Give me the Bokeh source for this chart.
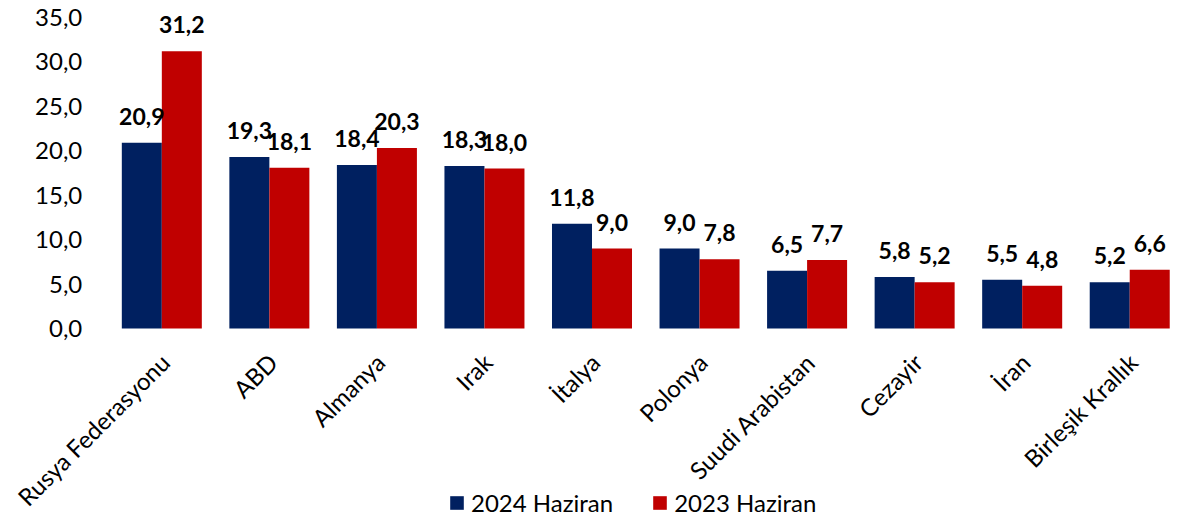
from bokeh.plotting import figure
from bokeh.models import (FactorRange, Range1d, Legend, LegendItem, ColumnDataSource)
from bokeh.transform import dodge
from bokeh.core.properties import value
from bokeh.embed import file_html
from bokeh.resources import INLINE
import math

categories = ["Rusya Federasyonu", "ABD", "Almanya", "Irak", "İtalya", "Polonya",
              "Suudi Arabistan", "Cezayir", "İran", "Birleşik Krallık"]
series_2024 = [20.9, 19.3, 18.4, 18.3, 11.8, 9.0, 6.5, 5.8, 5.5, 5.2]
series_2023 = [31.2, 18.1, 20.3, 18.0, 9.0, 7.8, 7.7, 5.2, 4.8, 6.6]
series_names = ["2024 Haziran", "2023 Haziran"]
y_ticks = [0, 5, 10, 15, 20, 25, 30, 35]

NAVY = "#002060"
RED = "#C00000"
FONT = "Lato"
AXIS_SLOT = " "   # empty slot on the left that holds the value-axis labels

def fmt(v):
    return f"{v:.1f}".replace(".", ",")

src = ColumnDataSource(dict(
    cat=categories,
    a=series_2024,
    b=series_2023,
    la=[fmt(v) for v in series_2024],
    lb=[fmt(v) for v in series_2023],
    zero=[0] * len(categories),
))
tick_src = ColumnDataSource(dict(
    x=[AXIS_SLOT] * len(y_ticks),
    y=y_ticks,
    t=[fmt(v) for v in y_ticks],
))

H = 520
# frame spans the whole canvas; 0 sits at 328px, 35 at 17px from the top
px_per_unit = (328 - 17) / 35.0
y_top = 35 + 17 / px_per_unit
y_bottom = -(H - 328) / px_per_unit

p = figure(x_range=FactorRange(AXIS_SLOT, *categories, range_padding=0),
           y_range=Range1d(y_bottom, y_top),
           width=1183, height=H, output_backend="svg", toolbar_location=None,
           min_border_left=0, min_border_right=0, min_border_top=0, min_border_bottom=0)
p.outline_line_color = None
p.xgrid.grid_line_color = None
p.ygrid.grid_line_color = None
p.xaxis.visible = False
p.yaxis.visible = False

bw = 0.372
ra = p.vbar(x=dodge("cat", -bw / 2, range=p.x_range), top="a", width=bw, source=src,
            fill_color=NAVY, line_color=None)
rb = p.vbar(x=dodge("cat", bw / 2, range=p.x_range), top="b", width=bw, source=src,
            fill_color=RED, line_color=None)

# baseline (category axis line) from the first category to the right edge
p.segment(x0=dodge(AXIS_SLOT, 0.5, range=p.x_range), x1=dodge(categories[-1], 0.5, range=p.x_range),
          y0=0, y1=0, line_color="#a6a6a6", line_width=2)

# value labels
p.text(x=dodge("cat", -bw / 2, range=p.x_range), y="a", text="la", source=src,
       text_align="center", text_baseline="bottom", y_offset=-18,
       text_font=value(FONT), text_font_style="bold", text_font_size="23px", text_color="black")
p.text(x=dodge("cat", bw / 2, range=p.x_range), y="b", text="lb", source=src,
       text_align="center", text_baseline="bottom", y_offset=-18,
       text_font=value(FONT), text_font_style="bold", text_font_size="23px", text_color="black")

# category labels (rotated)
p.text(x="cat", y="zero", text="cat", source=src, angle=math.pi / 4,
       text_align="right", text_baseline="top", x_offset=-7, y_offset=19,
       text_font=value(FONT), text_font_size="24px", text_color="black")

# value-axis tick labels
p.text(x="x", y="y", text="t", source=tick_src, x_offset=28,
       text_align="right", text_baseline="middle",
       text_font=value(FONT), text_font_size="24px", text_color="black")

legend = Legend(items=[LegendItem(label=series_names[0], renderers=[ra]),
                       LegendItem(label=series_names[1], renderers=[rb])],
                orientation="horizontal", location=(448, 3),
                border_line_color=None, background_fill_alpha=0,
                label_text_font=FONT, label_text_font_size="24px", label_text_color="black",
                glyph_width=17, glyph_height=17, label_standoff=6, spacing=38,
                padding=0, margin=0)
p.add_layout(legend, "center")

open("out.html", "w").write(file_html(p, INLINE))
